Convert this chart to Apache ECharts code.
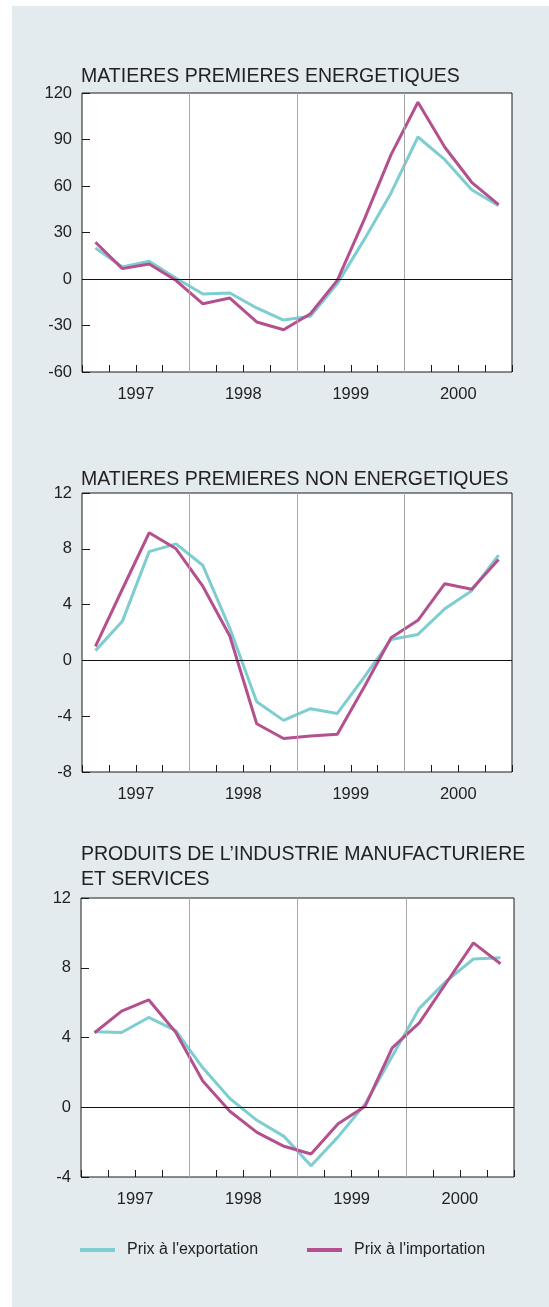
<!DOCTYPE html>
<html>
<head>
<meta charset="utf-8">
<script src="https://cdn.jsdelivr.net/npm/echarts@6/dist/echarts.min.js"></script>
<style>
	html, body { margin: 0; padding: 0; background: #fff; }
	#chart { width: 549px; height: 1307px; }
</style>
</head>
<body>
<div id="chart"></div>
<script>
	var years = ['1997', '1998', '1999', '2000'];
	var yearBounds = [4, 8, 12];

	// variations trimestrielles, 1997 T1 -> 2000 T4
	var energyExport = [20, 7.7, 11.4, 0.5, -9.7, -9, -18.7, -26.5, -24, -3, 25.4, 55.5, 91.6, 77, 57.6, 47.3];
	var energyImport = [23.7, 6.7, 9.7, -1, -16, -12.3, -27.7, -32.7, -22.4, -0.9, 38.3, 80.2, 114, 85, 62.4, 48];

	var nonEnergyExport = [0.7, 2.8, 7.8, 8.35, 6.8, 2.3, -2.96, -4.3, -3.46, -3.8, -1.2, 1.5, 1.86, 3.7, 5.0, 7.55];
	var nonEnergyImport = [1.0, 5.1, 9.15, 8.0, 5.3, 1.75, -4.54, -5.6, -5.42, -5.3, -1.9, 1.62, 2.87, 5.5, 5.1, 7.24];

	var manufExport = [4.33, 4.29, 5.15, 4.4, 2.26, 0.5, -0.75, -1.67, -3.35, -1.7, 0.19, 2.93, 5.67, 7.23, 8.5, 8.57];
	var manufImport = [4.27, 5.51, 6.16, 4.3, 1.5, -0.23, -1.44, -2.24, -2.68, -0.94, 0.06, 3.4, 4.84, 7.14, 9.43, 8.23];

	var titles = [
		'MATIERES PREMIERES ENERGETIQUES',
		'MATIERES PREMIERES NON ENERGETIQUES',
		'PRODUITS DE L\u2019INDUSTRIE MANUFACTURIERE\nET SERVICES'
	];
	var yRanges = [[-60, 120, 30], [-8, 12, 4], [-4, 12, 4]];

	var font = "'Liberation Sans', Arial, sans-serif";
	var textColor = '#222';
	var exportColor = '#7dcdd1';
	var importColor = '#b5508e';

	function toPoints(arr) {
		return arr.map(function(v, i) {
			return [i + 0.5, v];
		});
	}

	var grids = [
		{left: 82, top: 93, width: 430, height: 279},
		{left: 82, top: 493, width: 430, height: 279},
		{left: 81, top: 898, width: 433, height: 279}
	];
	var titleTops = [64, 467, 842];
	var panelData = [
		[energyExport, energyImport],
		[nonEnergyExport, nonEnergyImport],
		[manufExport, manufImport]
	];

	var option = {
		animation: false,
		graphic: [{
			type: 'rect',
			left: 12,
			top: 6,
			z: -10,
			shape: {width: 537, height: 1301},
			style: {fill: '#e4ebef'}
		}],
		title: [],
		grid: [],
		xAxis: [],
		yAxis: [],
		series: [],
		legend: [{
			left: 80,
			top: 1242,
			padding: 0,
			icon: 'rect',
			itemWidth: 35,
			itemHeight: 4,
			data: ['Prix \u00e0 l\'exportation'],
			textStyle: {fontFamily: font, fontSize: 16, color: textColor, padding: [0, 0, 0, 7]}
		}, {
			left: 307,
			top: 1242,
			padding: 0,
			icon: 'rect',
			itemWidth: 35,
			itemHeight: 4,
			data: ['Prix \u00e0 l\'importation'],
			textStyle: {fontFamily: font, fontSize: 16, color: textColor, padding: [0, 0, 0, 7]}
		}]
	};

	for (var p = 0; p < 3; p++) {
		option.title.push({
			text: titles[p],
			left: 81,
			top: titleTops[p],
			padding: 0,
			textStyle: {fontFamily: font, fontSize: 19.5, fontWeight: 'normal', color: textColor, lineHeight: 25}
		});
		var g = grids[p];
		option.grid.push({
			left: g.left, top: g.top, width: g.width, height: g.height,
			show: true, backgroundColor: '#fff', borderColor: '#1a1a1a', borderWidth: 1
		});
		option.xAxis.push({
			type: 'value',
			gridIndex: p,
			min: 0,
			max: 16,
			interval: 1,
			axisLine: {show: false, onZero: false},
			axisTick: {show: true, inside: true, length: 7, lineStyle: {color: '#1a1a1a', width: 1}},
			splitLine: {show: false},
			axisLabel: {
				margin: 14,
				fontFamily: font,
				fontSize: 16.5,
				color: textColor,
				showMinLabel: true,
				showMaxLabel: true,
				formatter: function(v) {
					return v % 4 === 2 ? years[(v - 2) / 4] : '';
				}
			}
		});
		option.yAxis.push({
			type: 'value',
			gridIndex: p,
			min: yRanges[p][0],
			max: yRanges[p][1],
			interval: yRanges[p][2],
			axisLine: {show: false, onZero: false},
			axisTick: {show: true, inside: true, length: 8, lineStyle: {color: '#1a1a1a', width: 1}},
			splitLine: {show: false},
			axisLabel: {margin: 10, fontFamily: font, fontSize: 16.5, color: textColor}
		});

		//lignes des annees et ligne zero
		var marks = yearBounds.map(function(b) {
			return {xAxis: b, lineStyle: {color: '#a8a8a8', width: 1, type: 'solid'}};
		});
		marks.push({yAxis: 0, lineStyle: {color: '#111', width: 1.2, type: 'solid'}});
		option.series.push({
			type: 'line',
			xAxisIndex: p,
			yAxisIndex: p,
			data: [],
			silent: true,
			z: 1,
			markLine: {symbol: 'none', silent: true, label: {show: false}, data: marks}
		});

		option.series.push({
			name: 'Prix \u00e0 l\'exportation',
			type: 'line',
			xAxisIndex: p,
			yAxisIndex: p,
			data: toPoints(panelData[p][0]),
			showSymbol: false,
			z: 3,
			lineStyle: {color: exportColor, width: 3},
			itemStyle: {color: exportColor}
		});
		option.series.push({
			name: 'Prix \u00e0 l\'importation',
			type: 'line',
			xAxisIndex: p,
			yAxisIndex: p,
			data: toPoints(panelData[p][1]),
			showSymbol: false,
			z: 4,
			lineStyle: {color: importColor, width: 3},
			itemStyle: {color: importColor}
		});
	}

	var myChart = echarts.init(document.getElementById('chart'));
	myChart.setOption(option);
</script>
</body>
</html>
